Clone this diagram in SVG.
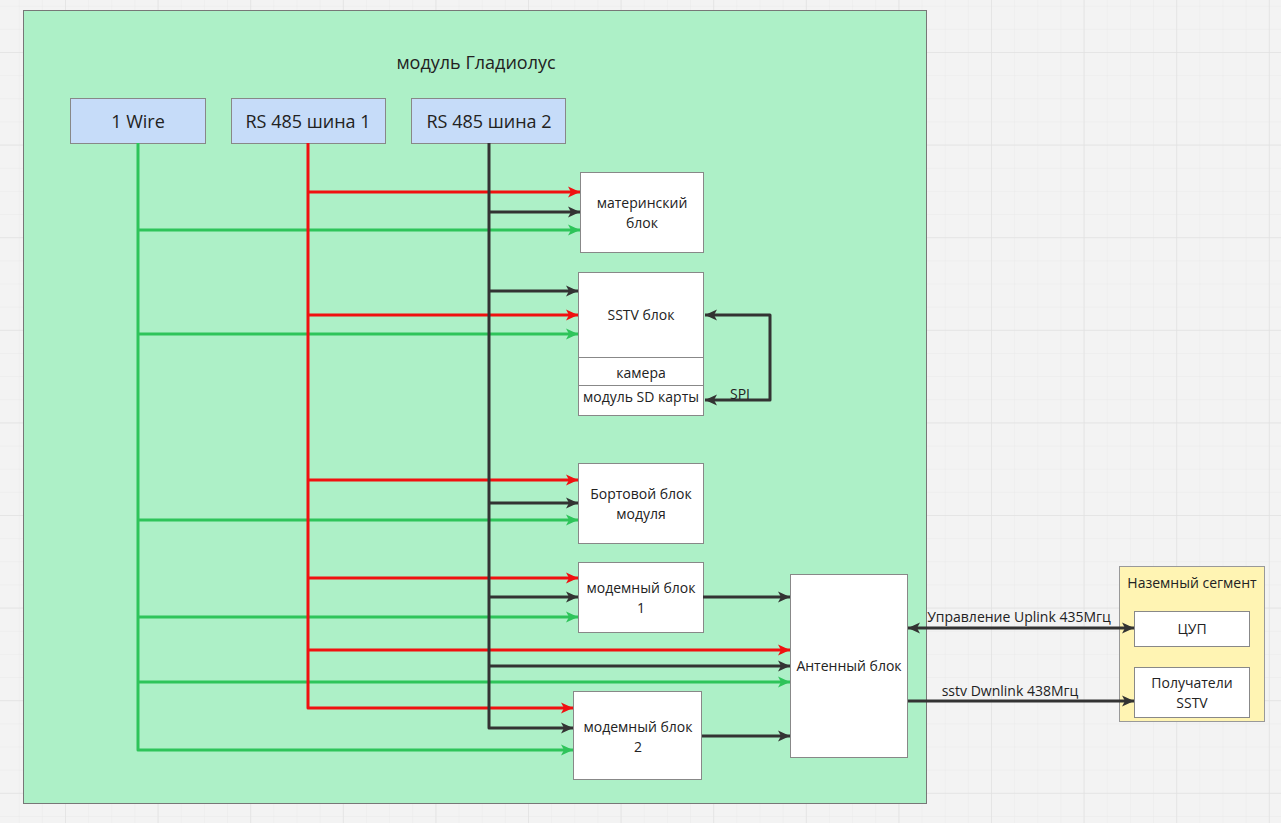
<svg xmlns="http://www.w3.org/2000/svg" width="1281" height="823" viewBox="0 0 1281 823">
<defs>
<pattern id="gridMinor" width="23.15" height="23.15" patternUnits="userSpaceOnUse" x="65" y="52">
<path d="M0 0H23.15M0 0V23.15" fill="none" stroke="#e9e9e9" stroke-width="1"/>
</pattern>
<pattern id="gridMajor" width="92.6" height="92.6" patternUnits="userSpaceOnUse" x="65" y="52">
<path d="M0 0H92.6M0 0V92.6" fill="none" stroke="#e2e2e2" stroke-width="1.5"/>
</pattern>
<marker id="aR" markerUnits="userSpaceOnUse" markerWidth="14" markerHeight="14" refX="12" refY="7" orient="auto"><path d="M0 1.5L12 7L0 12.5L3 7Z" fill="#f01010"/></marker>
<marker id="aG" markerUnits="userSpaceOnUse" markerWidth="14" markerHeight="14" refX="12" refY="7" orient="auto"><path d="M0 1.5L12 7L0 12.5L3 7Z" fill="#2ec45a"/></marker>
<marker id="aK" markerUnits="userSpaceOnUse" markerWidth="14" markerHeight="14" refX="12" refY="7" orient="auto"><path d="M0 1.5L12 7L0 12.5L3 7Z" fill="#333333"/></marker>
<marker id="aKs" markerUnits="userSpaceOnUse" markerWidth="14" markerHeight="14" refX="0" refY="7" orient="auto"><path d="M12 1.5L0 7L12 12.5L9 7Z" fill="#333333"/></marker>
</defs>
<style>
text{font-family:"Open Sans","Noto Sans","DejaVu Sans",sans-serif;fill:#222;text-anchor:middle}
.node{fill:#ffffff;stroke:#888;stroke-width:1}
.bus{fill:#c6dcf9;stroke:#888;stroke-width:1}
.t{font-size:14px}
.tb{font-size:18px}
.r{stroke:#f01010;stroke-width:3;fill:none;stroke-linejoin:round}
.g{stroke:#2ec45a;stroke-width:3;fill:none;stroke-linejoin:round}
.k{stroke:#333333;stroke-width:3;fill:none;stroke-linejoin:round}
.ra{marker-end:url(#aR)}
.ga{marker-end:url(#aG)}
.ka{marker-end:url(#aK)}
</style>
<rect width="1281" height="823" fill="#f3f3f3"/>
<rect width="1281" height="823" fill="url(#gridMinor)"/>
<rect width="1281" height="823" fill="url(#gridMajor)"/>

<g id="module">
<rect x="23.5" y="10.5" width="903" height="793" fill="#adf0c7" stroke="#777" stroke-width="1"/>
<text x="476" y="69" font-size="18">модуль Гладиолус</text>
</g>

<g id="wire1"><rect class="bus" x="70.5" y="98.5" width="135" height="45"/><text class="tb" x="138" y="128">1 Wire</text></g>
<g id="rs485-1"><rect class="bus" x="231.5" y="98.5" width="154" height="45"/><text class="tb" x="308" y="128">RS 485 шина 1</text></g>
<g id="rs485-2"><rect class="bus" x="411.5" y="98.5" width="154" height="45"/><text class="tb" x="489" y="128">RS 485 шина 2</text></g>

<g id="mother"><rect class="node" x="580.5" y="172.5" width="123" height="80"/><text class="t" x="642" y="208">материнский</text><text class="t" x="642" y="228">блок</text></g>
<g id="sstv">
<rect class="node" x="578.5" y="272.5" width="125" height="85"/><text class="t" x="641" y="320">SSTV блок</text>
<rect class="node" x="578.5" y="357.5" width="125" height="28"/><text class="t" x="641" y="378">камера</text>
<rect class="node" x="578.5" y="385.5" width="125" height="30"/><text class="t" x="641" y="402">модуль SD карты</text>
</g>
<g id="board"><rect class="node" x="578.5" y="463.5" width="125" height="80"/><text class="t" x="641" y="499">Бортовой блок</text><text class="t" x="641" y="519">модуля</text></g>
<g id="modem1"><rect class="node" x="578.5" y="562.5" width="125" height="70"/><text class="t" x="641" y="593">модемный блок</text><text class="t" x="641" y="613">1</text></g>
<g id="modem2"><rect class="node" x="573.5" y="691.5" width="128" height="88"/><text class="t" x="638" y="732">модемный блок</text><text class="t" x="638" y="752">2</text></g>
<g id="antenna"><rect class="node" x="790.5" y="574.5" width="117" height="183"/><text class="t" x="849" y="671">Антенный блок</text></g>

<g id="ground">
<rect x="1119.5" y="566.5" width="145" height="155" fill="#fff4b3" stroke="#999" stroke-width="1"/>
<text class="t" x="1192" y="588">Наземный сегмент</text>
</g>
<g id="cup"><rect class="node" x="1134.5" y="611.5" width="115" height="35"/><text class="t" x="1192" y="634">ЦУП</text></g>
<g id="receivers"><rect class="node" x="1134.5" y="667.5" width="115" height="50"/><text class="t" x="1192" y="688">Получатели</text><text class="t" x="1192" y="708">SSTV</text></g>

<g id="connectors">
<!-- green 1-wire bus -->
<path class="g ga" d="M138 143V750H573"/>
<path class="g ga" d="M138 230H580"/>
<path class="g ga" d="M138 334H578"/>
<path class="g ga" d="M138 520H578"/>
<path class="g ga" d="M138 617H578"/>
<path class="g ga" d="M138 682H790"/>
<!-- red RS485-1 bus -->
<path class="r ra" d="M308 143V708H573"/>
<path class="r ra" d="M308 192H580"/>
<path class="r ra" d="M308 315H578"/>
<path class="r ra" d="M308 480H578"/>
<path class="r ra" d="M308 578H578"/>
<path class="r ra" d="M308 650H790"/>
<!-- black RS485-2 bus -->
<path class="k ka" d="M489 143V728H573"/>
<path class="k ka" d="M489 212H580"/>
<path class="k ka" d="M489 291H578"/>
<path class="k ka" d="M489 503H578"/>
<path class="k ka" d="M489 597H578"/>
<path class="k ka" d="M489 666H790"/>
<!-- modems to antenna -->
<path class="k ka" d="M703 597H790"/>
<path class="k ka" d="M702 736H790"/>
<!-- SPI -->
<path class="k" d="M705 315H770V400H705" marker-start="url(#aKs)" marker-end="url(#aK)"/>
<text class="t" x="740" y="399">SPI</text>
<!-- links to ground -->
<path class="k" d="M908 628H1134" marker-start="url(#aKs)" marker-end="url(#aK)"/>
<text class="t" x="1019" y="622">Управление Uplink 435Мгц</text>
<path class="k ka" d="M908 701H1134"/>
<text class="t" x="1010" y="696">sstv Dwnlink 438Мгц</text>
</g>
</svg>
